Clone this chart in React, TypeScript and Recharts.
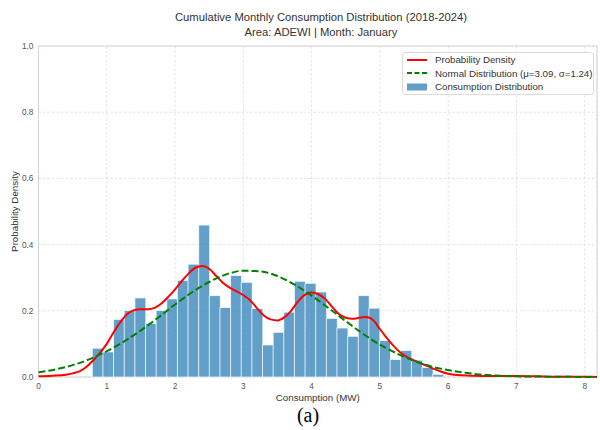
import { Bar, CartesianGrid, ComposedChart, Label, Line, ReferenceArea, XAxis, YAxis } from 'recharts'

// histogram bins (density)
const binStart = 0.788
const binWidth = 0.1558
const binHeights = [
  0.087, 0.076, 0.174, 0.201, 0.239, 0.162, 0.201, 0.236, 0.292, 0.341, 0.459,
  0.246, 0.21, 0.307, 0.286, 0.207, 0.097, 0.135, 0.196, 0.289, 0.283,
  0.257, 0.177, 0.148, 0.123, 0.246, 0.208, 0.11, 0.053, 0.08, 0.051, 0.029, 0.008,
  0, 0, 0, 0, 0, 0.004, 0, 0, 0, 0, 0, 0.004,
]

// kernel density (red)
const kdeX = [
  0, 0.2, 0.4, 0.5, 0.6, 0.7, 0.8, 0.9, 1.0, 1.1, 1.2, 1.3, 1.4, 1.5, 1.6, 1.7, 1.8, 1.9,
  2.0, 2.1, 2.2, 2.3, 2.4, 2.5, 2.6, 2.7, 2.8, 2.9, 3.0, 3.1, 3.2, 3.3, 3.4, 3.5, 3.6, 3.7,
  3.8, 3.9, 4.0, 4.1, 4.2, 4.3, 4.4, 4.5, 4.6, 4.7, 4.8, 4.9, 5.0, 5.1, 5.2, 5.3, 5.4, 5.5,
  5.6, 5.7, 5.8, 5.9, 6.0, 6.2, 6.5, 7.0, 7.5, 8.0, 8.18,
]
const kdeY = [
  0.002, 0.004, 0.007, 0.011, 0.017, 0.03, 0.05, 0.073, 0.1, 0.135, 0.166, 0.19, 0.202, 0.205,
  0.205, 0.209, 0.222, 0.242, 0.265, 0.29, 0.313, 0.33, 0.335, 0.327, 0.306, 0.285, 0.27,
  0.259, 0.247, 0.232, 0.208, 0.186, 0.174, 0.171, 0.18, 0.2, 0.228, 0.248, 0.255, 0.25,
  0.236, 0.212, 0.19, 0.179, 0.176, 0.179, 0.181, 0.172, 0.145, 0.118, 0.094, 0.074, 0.06,
  0.05, 0.041, 0.033, 0.024, 0.016, 0.01, 0.005, 0.003, 0.003, 0.001, 0.0005, 0.0003,
]

// normal fit (green dashed)
const normX = [
  0, 0.25, 0.5, 0.75, 1.0, 1.25, 1.5, 1.75, 2.0, 2.25, 2.5, 2.75, 3.0, 3.25, 3.5, 3.75, 4.0,
  4.25, 4.5, 4.75, 5.0, 5.25, 5.5, 5.75, 6.0, 6.25, 6.5, 6.75, 7.0, 7.5, 8.0, 8.18,
]
const normY = [
  0.014, 0.023, 0.036, 0.054, 0.078, 0.107, 0.141, 0.179, 0.219, 0.256, 0.287, 0.31, 0.321,
  0.319, 0.305, 0.279, 0.246, 0.208, 0.169, 0.131, 0.098, 0.071, 0.049, 0.032, 0.021, 0.013,
  0.007, 0.004, 0.002, 0.001, 0.0001, 0,
]

const xTicks = [0, 1, 2, 3, 4, 5, 6, 7, 8]
const yTicks = [0, 0.2, 0.4, 0.6, 0.8, 1.0]
const xMax = 8.18

const bins = binHeights.map((h, i) => ({ x: binStart + binWidth * (i + 0.5), h }))
const kde = kdeX.map((x, i) => ({ x, y: kdeY[i] }))
const norm = normX.map((x, i) => ({ x, y: normY[i] }))

const sans = '"Liberation Sans", Arial, sans-serif'
const tickStyle = { fill: '#555', fontSize: 8.3, fontFamily: sans }

function LegendBox() {
  const row = { display: 'flex', alignItems: 'center', height: 13.5 } as const
  const text = { marginLeft: 8, fontSize: 9.7, color: '#333', fontFamily: sans, whiteSpace: 'nowrap' } as const
  return (
    <div
      style={{
        position: 'absolute',
        left: 402,
        top: 52,
        width: 192,
        height: 43,
        padding: '0 0 0 4px',
        boxSizing: 'border-box',
        border: '1px solid #dcdcdc',
        borderRadius: 3,
        background: 'rgba(255,255,255,0.85)',
      }}
    >
      <div style={row}>
        <svg width={20} height={8}><line x1={0} y1={4} x2={20} y2={4} stroke="#ff0000" strokeWidth={2} /></svg>
        <span style={text}>Probability Density</span>
      </div>
      <div style={row}>
        <svg width={20} height={8}><line x1={0} y1={4} x2={20} y2={4} stroke="#008000" strokeWidth={2} strokeDasharray="5 2.5" /></svg>
        <span style={text}>Normal Distribution (μ=3.09, σ=1.24)</span>
      </div>
      <div style={row}>
        <svg width={20} height={8}><rect x={0} y={0.5} width={20} height={7} fill="#1f77b4" fillOpacity={0.7} /></svg>
        <span style={text}>Consumption Distribution</span>
      </div>
    </div>
  )
}

export default function App() {
  return (
    <div style={{ position: 'absolute', left: 0, top: 0, width: 600, height: 430, background: '#fff' }}>
      <div
        style={{
          position: 'absolute',
          left: 42,
          top: 10,
          width: 558,
          textAlign: 'center',
          fontFamily: sans,
          fontSize: 11.25,
          lineHeight: '14.5px',
          color: '#333',
        }}
      >
        <div>Cumulative Monthly Consumption Distribution (2018-2024)</div>
        <div>Area: ADEWI | Month: January</div>
      </div>

      <ComposedChart
        width={600}
        height={430}
        data={bins}
        margin={{ top: 46, right: 3, bottom: 29, left: 0 }}
        barCategoryGap={0}
        barGap={0}
      >
        <CartesianGrid stroke="#e4e4e4" strokeDasharray="2.5 2" />
        <XAxis
          dataKey="x"
          type="number"
          domain={[0, xMax]}
          ticks={xTicks}
          height={24}
          axisLine={false}
          tickLine={false}
          tickSize={3}
          tickMargin={3}
          tick={tickStyle}
        >
          <Label value="Consumption (MW)" position="insideBottom" offset={0} style={{ fill: '#333', fontSize: 9.75, fontFamily: sans }} />
        </XAxis>
        <XAxis xAxisId="curve" dataKey="x" type="number" domain={[0, xMax]} hide />
        <YAxis
          type="number"
          domain={[0, 1]}
          ticks={yTicks}
          width={38.5}
          axisLine={false}
          tickLine={false}
          tickSize={3}
          tickMargin={2}
          tick={tickStyle}
          tickFormatter={(v: number) => v.toFixed(1)}
        >
          <Label
            value="Probability Density"
            angle={-90}
            position="insideLeft"
            offset={15}
            style={{ fill: '#333', fontSize: 9.75, fontFamily: sans, textAnchor: 'middle' }}
          />
        </YAxis>
        <ReferenceArea x1={0} x2={xMax} y1={0} y2={1} fill="none" stroke="#d4d4d4" strokeWidth={1} />
        <Bar dataKey="h" fill="#1f77b4" fillOpacity={0.7} stroke="#ffffff" strokeOpacity={0.75} strokeWidth={1} isAnimationActive={false} />
        <Line
          xAxisId="curve"
          data={kde}
          dataKey="y"
          type="monotone"
          stroke="#ff0000"
          strokeWidth={2}
          dot={false}
          activeDot={false}
          isAnimationActive={false}
        />
        <Line
          xAxisId="curve"
          data={norm}
          dataKey="y"
          type="monotone"
          stroke="#008000"
          strokeWidth={2}
          strokeDasharray="7 3"
          dot={false}
          activeDot={false}
          isAnimationActive={false}
        />
      </ComposedChart>

      <LegendBox />

      <div
        style={{
          position: 'absolute',
          left: 258,
          top: 404,
          width: 100,
          textAlign: 'center',
          fontFamily: '"Liberation Serif", "Times New Roman", serif',
          fontSize: 20,
          color: '#000',
        }}
      >
        (a)
      </div>
    </div>
  )
}
